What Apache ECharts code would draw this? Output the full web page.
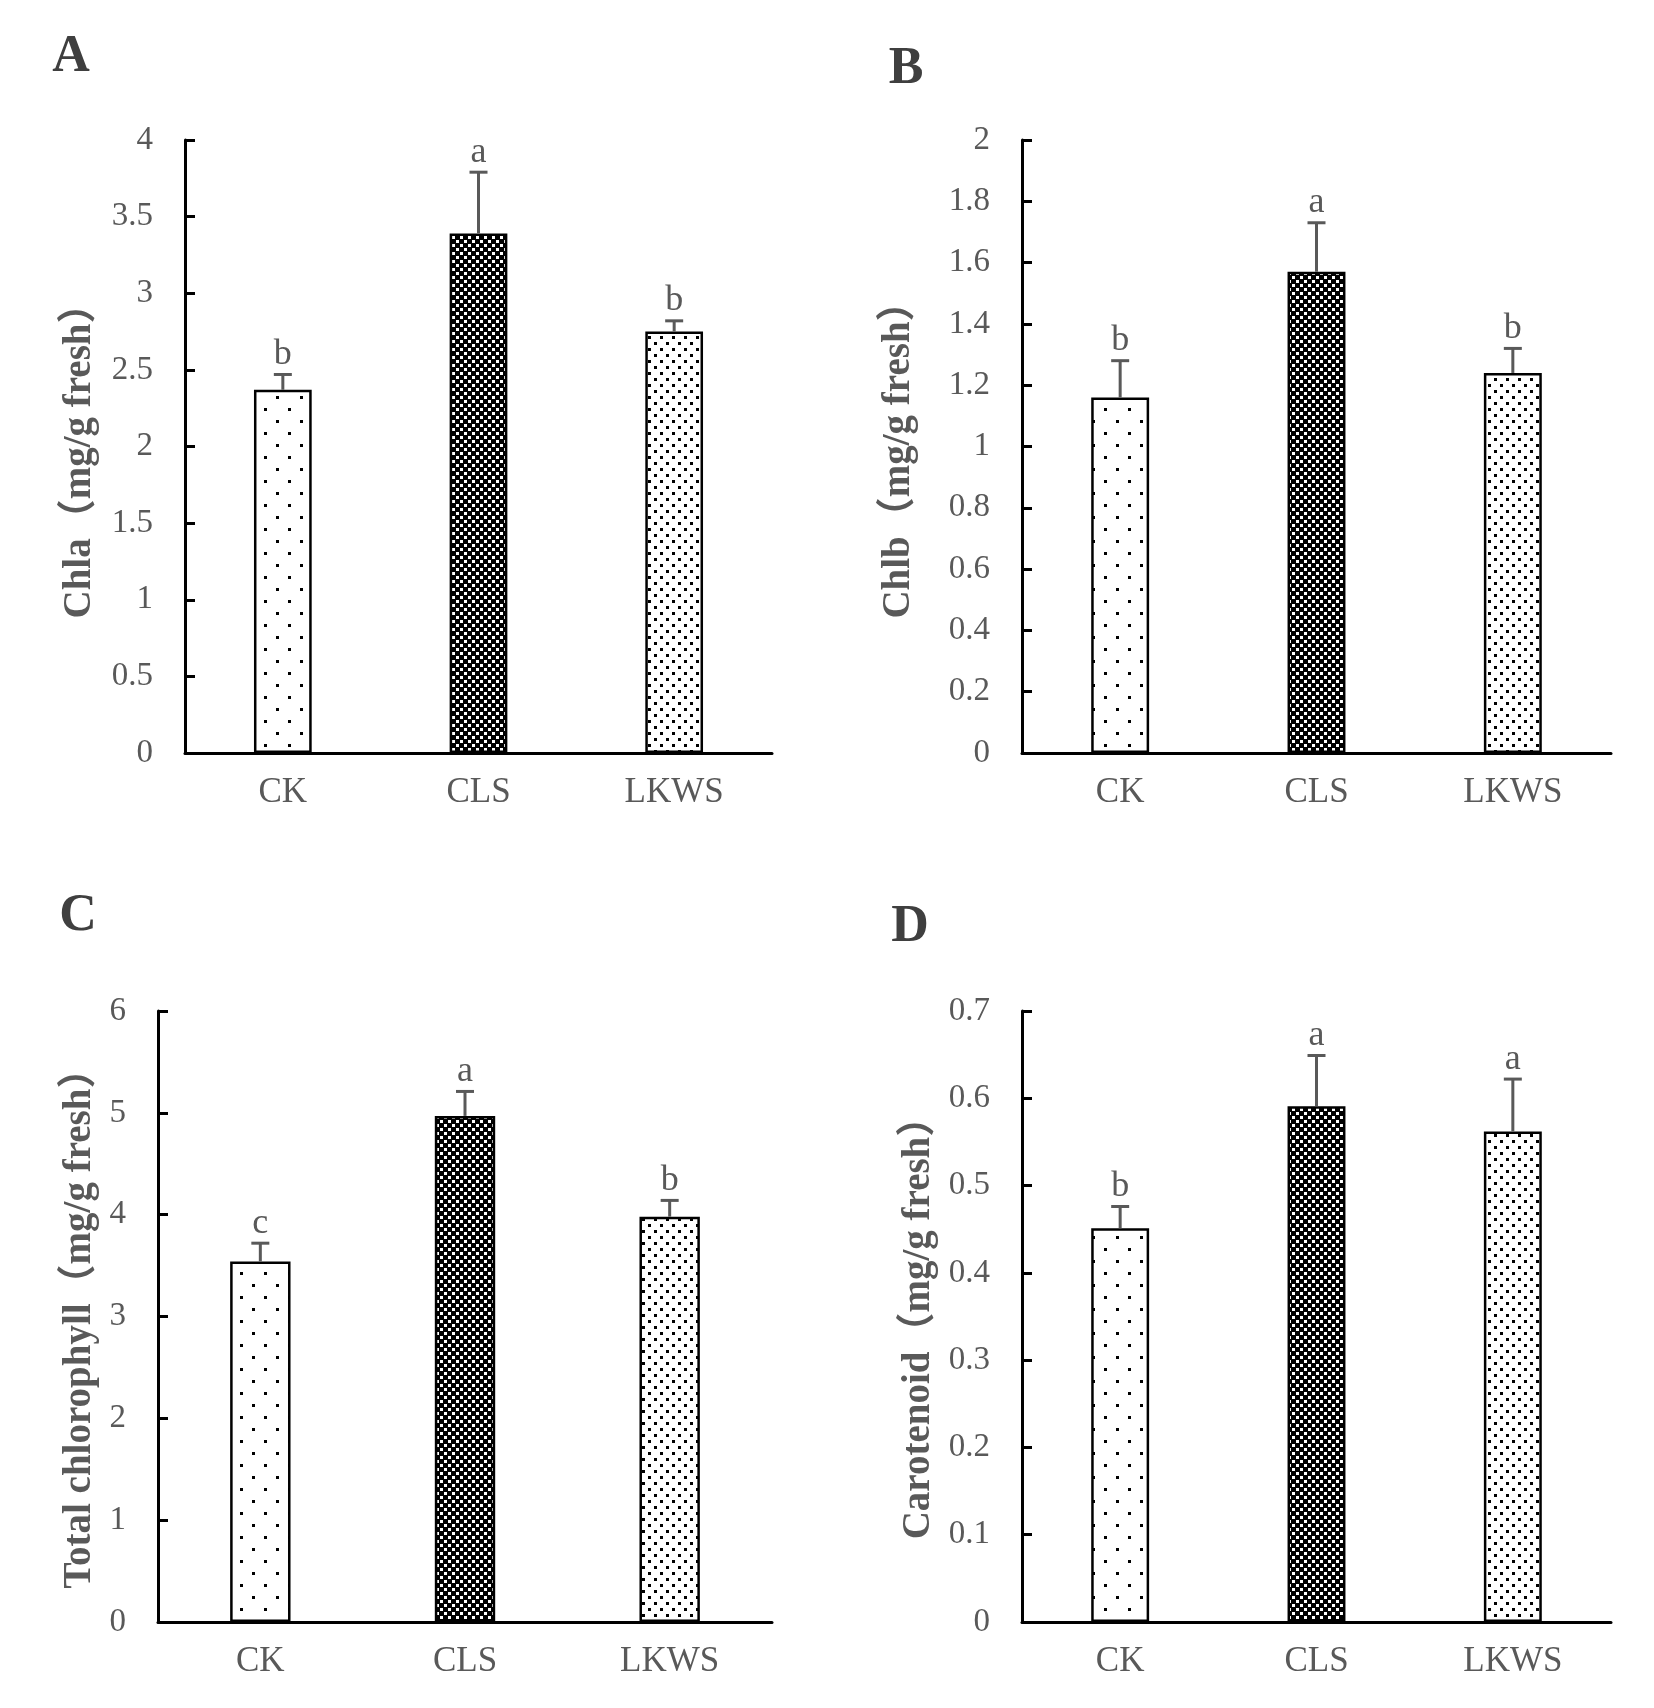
<!DOCTYPE html>
<html>
<head>
<meta charset="utf-8">
<script src="https://cdn.jsdelivr.net/npm/echarts@6/dist/echarts.min.js"></script>
<style>
html, body { margin: 0; padding: 0; background: #fff; }
#main { width: 1654px; height: 1708px; }
</style>
</head>
<body>
<div id="main"></div>
<script>
// 数据
var cats = ['CK', 'CLS', 'LKWS'];

var chlaMean = [2.37, 3.39, 2.75];
var chlaSd = [0.10, 0.40, 0.07];
var chlaSig = ['b', 'a', 'b'];

var chlbMean = [1.16, 1.57, 1.24];
var chlbSd = [0.12, 0.16, 0.08];
var chlbSig = ['b', 'a', 'b'];

var totalMean = [3.54, 4.97, 3.98];
var totalSd = [0.18, 0.24, 0.16];
var totalSig = ['c', 'a', 'b'];

var caroMean = [0.451, 0.591, 0.562];
var caroSd = [0.025, 0.058, 0.060];
var caroSig = ['b', 'a', 'a'];

var yMax = [4, 2, 6, 0.7];
var yStep = [0.5, 0.2, 1, 0.1];
var yNames = ['Chla（mg/g fresh）', 'Chlb（mg/g fresh）', 'Total chlorophyll（mg/g fresh）', 'Carotenoid（mg/g fresh）'];
var panelTags = ['A', 'B', 'C', 'D'];

var serif = '"Liberation Serif", "Times New Roman", "Noto Sans CJK SC", serif';
var gray = '#595959';

// 填充图案
function makePattern(tile, bg, fg, squares) {
    var c = document.createElement('canvas');
    c.width = tile;
    c.height = tile;
    var ctx = c.getContext('2d');
    ctx.fillStyle = bg;
    ctx.fillRect(0, 0, tile, tile);
    ctx.fillStyle = fg;
    squares.forEach(function (s) {
        ctx.fillRect(s[0], s[1], s[2], s[2]);
    });
    return { image: c, repeat: 'repeat' };
}
var patterns = [
    makePattern(24, '#ffffff', '#000000', [[0, 0, 3], [12, 12, 3]]),   // CK 稀疏点
    makePattern(8, '#000000', '#ffffff', [[0, 0, 3], [4, 4, 3]]),      // CLS 深色网点
    makePattern(12, '#ffffff', '#000000', [[0, 0, 3], [6, 6, 3]])      // LKWS 密集点
];

var grids = [
    { left: 185, top: 140, width: 587, height: 613 },
    { left: 1022, top: 140, width: 589, height: 613 },
    { left: 158, top: 1011, width: 614, height: 611 },
    { left: 1022, top: 1011, width: 589, height: 611 }
];
var nameGaps = [86, 104, 59, 84];
var namePads = [10, 8, 5, 4];
var tagPos = [[71, 58], [906, 70], [78, 917], [910, 928]];

var panels = [
    { mean: chlaMean, sd: chlaSd, sig: chlaSig },
    { mean: chlbMean, sd: chlbSd, sig: chlbSig },
    { mean: totalMean, sd: totalSd, sig: totalSig },
    { mean: caroMean, sd: caroSd, sig: caroSig }
];

function errRender(sig) {
    return function (params, api) {
        var i = api.value(0);
        var m = api.value(1);
        var s = api.value(2);
        var base = api.coord([i, m]);
        var top = api.coord([i, m + s]);
        var st = { stroke: gray, lineWidth: 3 };
        return {
            type: 'group',
            children: [
                { type: 'line', shape: { x1: top[0], y1: base[1], x2: top[0], y2: top[1] }, style: st },
                { type: 'line', shape: { x1: top[0] - 9, y1: top[1], x2: top[0] + 9, y2: top[1] }, style: st },
                {
                    type: 'text', x: top[0], y: top[1] - 2,
                    style: {
                        text: sig[params.dataIndex], textAlign: 'center', textVerticalAlign: 'bottom',
                        font: '36px ' + serif, fill: gray
                    }
                }
            ]
        };
    };
}

var xAxes = [], yAxes = [], series = [], graphics = [];
panels.forEach(function (p, k) {
    xAxes.push({
        type: 'category', gridIndex: k, data: cats,
        axisLine: { lineStyle: { color: '#000', width: 3 } },
        axisTick: { show: false },
        axisLabel: { color: gray, fontSize: 35, fontFamily: serif, margin: 22 }
    });
    yAxes.push({
        type: 'value', gridIndex: k, min: 0, max: yMax[k], interval: yStep[k],
        name: yNames[k], nameLocation: 'middle', nameGap: nameGaps[k],
        nameTextStyle: {
            color: gray, fontSize: 39, fontWeight: 'bold', fontFamily: serif,
            padding: [0, namePads[k], 0, 0]
        },
        axisLine: { show: true, lineStyle: { color: '#000', width: 3 } },
        axisTick: { show: true, inside: true, length: 10, lineStyle: { color: '#000', width: 3 } },
        axisLabel: { color: gray, fontSize: 33, fontFamily: serif, margin: 32 },
        splitLine: { show: false }
    });
    series.push({
        type: 'bar', xAxisIndex: k, yAxisIndex: k, barWidth: '29.5%',
        data: p.mean.map(function (v, i) {
            return { value: v, itemStyle: { color: patterns[i], borderColor: '#000', borderWidth: 2.5 } };
        })
    });
    series.push({
        type: 'custom', xAxisIndex: k, yAxisIndex: k, z: 5,
        renderItem: errRender(p.sig),
        data: p.mean.map(function (v, i) { return [i, v, p.sd[i]]; })
    });
    graphics.push({
        type: 'text', x: tagPos[k][0], y: tagPos[k][1],
        style: {
            text: panelTags[k], textAlign: 'center', textVerticalAlign: 'middle',
            font: 'bold 52px ' + serif, fill: '#3f3f3f'
        }
    });
});

var myChart = echarts.init(document.getElementById('main'));
myChart.setOption({
    backgroundColor: '#fff',
    animation: false,
    grid: grids,
    xAxis: xAxes,
    yAxis: yAxes,
    series: series,
    graphic: graphics
});
</script>
</body>
</html>
